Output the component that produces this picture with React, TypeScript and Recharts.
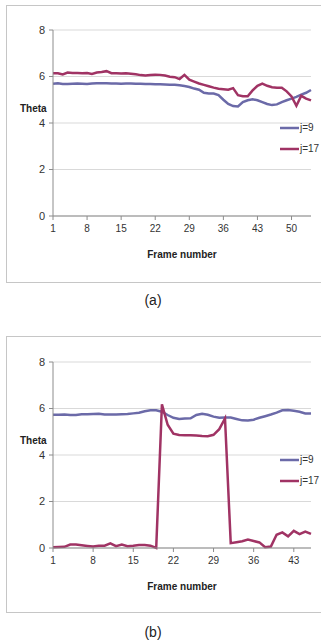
import React from 'react';
import { LineChart, Line, XAxis, YAxis, CartesianGrid, Legend, Label } from 'recharts';

// panel (a): 54 frames
const framesA = Array.from({ length: 54 }, (_, i) => String(i + 1));
const j9A = [
  5.69, 5.71, 5.68, 5.68, 5.69, 5.70, 5.69, 5.68, 5.70, 5.71,
  5.71, 5.71, 5.70, 5.70, 5.69, 5.70, 5.70, 5.69, 5.69, 5.68,
  5.68, 5.67, 5.67, 5.66, 5.65, 5.64, 5.62, 5.59, 5.55, 5.48,
  5.43, 5.30, 5.27, 5.27, 5.20, 5.00, 4.82, 4.73, 4.71, 4.90,
  4.98, 5.02, 4.98, 4.90, 4.82, 4.77, 4.80, 4.90, 4.98, 5.05,
  5.12, 5.22, 5.30, 5.42,
];
const j17A = [
  6.14, 6.14, 6.09, 6.17, 6.15, 6.15, 6.14, 6.15, 6.11, 6.17,
  6.19, 6.23, 6.14, 6.14, 6.13, 6.14, 6.12, 6.10, 6.06, 6.04,
  6.06, 6.08, 6.07, 6.04, 5.99, 5.97, 5.89, 6.07, 5.86, 5.78,
  5.70, 5.64, 5.58, 5.52, 5.47, 5.45, 5.43, 5.50, 5.20, 5.15,
  5.15, 5.40, 5.60, 5.69, 5.60, 5.54, 5.52, 5.52, 5.36, 5.14,
  4.74, 5.17, 5.05, 4.97,
];

// panel (b): 46 frames
const framesB = Array.from({ length: 46 }, (_, i) => String(i + 1));
const j9B = [
  5.73, 5.73, 5.74, 5.72, 5.72, 5.75, 5.75, 5.76, 5.77, 5.74,
  5.74, 5.74, 5.75, 5.76, 5.79, 5.82, 5.88, 5.92, 5.92, 5.86,
  5.72, 5.60, 5.55, 5.57, 5.58, 5.72, 5.77, 5.73, 5.65, 5.60,
  5.61, 5.61, 5.55, 5.49, 5.48, 5.52, 5.60, 5.67, 5.74, 5.82,
  5.92, 5.93, 5.90, 5.86, 5.79, 5.78,
];
const j17B = [
  0.03, 0.04, 0.05, 0.15, 0.15, 0.12, 0.09, 0.06, 0.10, 0.10,
  0.20, 0.08, 0.15, 0.08, 0.10, 0.13, 0.13, 0.10, 0.00, 6.18,
  5.30, 4.92, 4.86, 4.85, 4.85, 4.84, 4.82, 4.81, 4.87, 5.11,
  5.57, 0.21, 0.25, 0.29, 0.36, 0.30, 0.24, 0.03, 0.06, 0.57,
  0.67, 0.50, 0.74, 0.60, 0.71, 0.61,
];

const yTicks = [0, 2, 4, 6, 8];
const seriesNames = ['j=9', 'j=17'];

const BLUE = '#6b6aa8';
const RED = '#a03364';
const COLORS = [BLUE, RED];
const FONT = '"Liberation Sans Narrow", "Arial Narrow", "Liberation Sans", sans-serif';

const build = (frames: string[], a: number[], b: number[]) =>
  frames.map((f, i) => ({ frame: f, j9: a[i], j17: b[i] }));

// legend keeps series order (recharts sorts by name otherwise)
const LegendBox = () => (
  <div style={{ fontFamily: FONT, fontSize: 10, color: '#333' }}>
    {seriesNames.map((n, i) => (
      <div key={n} style={{ display: 'flex', alignItems: 'center', height: 21 }}>
        <svg width={19} height={4}>
          <line x1={0} y1={2} x2={19} y2={2} stroke={COLORS[i]} strokeWidth={2.5} />
        </svg>
        <span style={{ marginLeft: 1 }}>{n}</span>
      </div>
    ))}
  </div>
);

const Panel = ({ data, top, boxTop, boxHeight, caption }: any) => (
  <>
    <div
      style={{
        position: 'absolute', left: 6, top: boxTop, width: 330, height: boxHeight,
        border: '1px solid #c6c6c6', boxSizing: 'border-box',
      }}
    />
    <div style={{ position: 'absolute', left: 0, top }}>
      <LineChart width={321} height={290} data={data} margin={{ top: 30, right: 10, left: 20, bottom: 44 }}>
        <CartesianGrid vertical={false} stroke="#d9d9d9" />
        <XAxis
          dataKey="frame"
          interval={6}
          height={30}
          stroke="#8c8c8c"
          tickSize={4}
          tickMargin={5}
          tick={{ fontSize: 10, fill: '#333', fontFamily: FONT }}
        >
          <Label value="Frame number" position="bottom" offset={5} style={{ fontSize: 10, fontWeight: 700, fill: '#222', fontFamily: FONT }} />
        </XAxis>
        <YAxis
          width={33}
          domain={[0, 8]}
          ticks={yTicks}
          stroke="#8c8c8c"
          tickSize={4}
          tickMargin={4}
          tick={{ fontSize: 11, fill: '#333', fontFamily: FONT }}
        >
          <Label value="Theta" position="insideLeft" offset={0} dy={-15} style={{ fontSize: 10, fontWeight: 700, fill: '#222', fontFamily: FONT, textAnchor: 'start' }} />
        </YAxis>
        <Legend
          layout="vertical"
          align="center"
          verticalAlign="middle"
          content={<LegendBox />}
          wrapperStyle={{ position: 'absolute', left: 280, top: 117, width: 41 }}
        />
        <Line type="linear" dataKey="j9" name="j=9" stroke={BLUE} strokeWidth={2.5} dot={false} isAnimationActive={false} />
        <Line type="linear" dataKey="j17" name="j=17" stroke={RED} strokeWidth={2.5} dot={false} isAnimationActive={false} />
      </LineChart>
    </div>
    <div
      style={{
        position: 'absolute', left: 133, width: 40, top: top + 292, textAlign: 'center',
        fontFamily: FONT, fontSize: 14, color: '#222',
      }}
    >
      {caption}
    </div>
  </>
);

export default function App() {
  return (
    <div style={{ position: 'fixed', left: 0, top: 0, width: 321, height: 641, overflow: 'hidden', background: '#fff' }}>
      <Panel data={build(framesA, j9A, j17A)} top={0} boxTop={5} boxHeight={278} caption="(a)" />
      <Panel data={build(framesB, j9B, j17B)} top={332} boxTop={336} boxHeight={277} caption="(b)" />
    </div>
  );
}
